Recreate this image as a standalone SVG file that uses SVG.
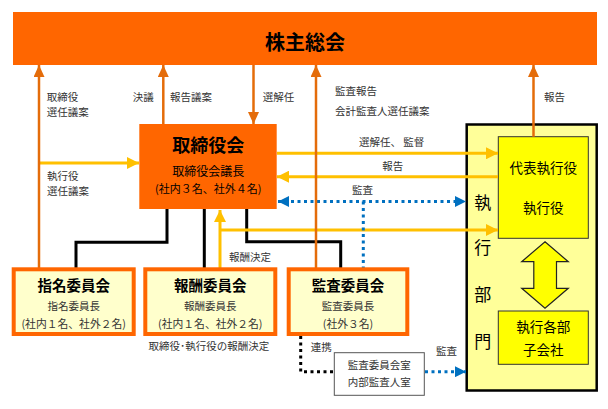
<svg xmlns="http://www.w3.org/2000/svg" width="608" height="409" viewBox="0 0 608 409">
<defs>
<style>
text{font-family:"Noto Sans CJK JP","Noto Sans",sans-serif;dominant-baseline:central;fill:#333}
.t{fill:#000;font-weight:bold}
.lbl{font-size:10.5px}
.mid{text-anchor:middle}
.or{stroke:#E46C0A;stroke-width:2.5;fill:none}
.ye{stroke:#FFC000;stroke-width:3;fill:none}
.bl{stroke:#0070C0;stroke-width:3;stroke-dasharray:3 3.5;fill:none}
.bk{stroke:#000;stroke-width:3;fill:none}
.bkd{stroke:#000;stroke-width:3;stroke-dasharray:3 3.5;fill:none}
.cm{fill:#FFFFCC;stroke:#FF6600;stroke-width:4}
.inner{fill:#FFFF00;stroke:#333;stroke-width:1}
</style>
<marker id="ao" markerUnits="userSpaceOnUse" markerWidth="12" markerHeight="11" refX="12" refY="5.5" orient="auto"><path d="M0,0 L12,5.5 L0,11 z" fill="#E46C0A"/></marker>
<marker id="ay" markerUnits="userSpaceOnUse" markerWidth="12" markerHeight="12" refX="12" refY="6" orient="auto"><path d="M0,0 L12,6 L0,12 z" fill="#FFC000"/></marker>
<marker id="ab" markerUnits="userSpaceOnUse" markerWidth="11" markerHeight="11" refX="11" refY="5.5" orient="auto"><path d="M0,0 L11,5.5 L0,11 z" fill="#0070C0"/></marker>
<marker id="abs" markerUnits="userSpaceOnUse" markerWidth="11" markerHeight="11" refX="0" refY="5.5" orient="auto"><path d="M11,0 L0,5.5 L11,11 z" fill="#0070C0"/></marker>
</defs>

<g id="shareholders">
<rect x="13" y="12" width="584" height="53" fill="#FF6600"/>
<text class="t mid" x="305" y="41" font-size="20">株主総会</text>
</g>

<g id="exec-dept">
<rect x="466.7" y="124.5" width="130" height="266" fill="#FFFF99" stroke="#000" stroke-width="2.5"/>
<text class="mid" x="482.7" y="201" font-size="17" style="fill:#000">執</text>
<text class="mid" x="482.7" y="246.7" font-size="17" style="fill:#000">行</text>
<text class="mid" x="482.7" y="293.3" font-size="17" style="fill:#000">部</text>
<text class="mid" x="482.7" y="340" font-size="17" style="fill:#000">門</text>
</g>

<g id="representative">
<rect class="inner" x="498.3" y="136.7" width="90" height="101.6"/>
<text class="mid" x="543.3" y="167.3" font-size="13.5" style="fill:#000">代表執行役</text>
<text class="mid" x="543.3" y="206.7" font-size="13.5" style="fill:#000">執行役</text>
</g>

<g id="divisions">
<rect class="inner" x="498.3" y="311" width="90" height="53.3"/>
<text class="mid" x="543.3" y="326" font-size="13.5" style="fill:#000">執行各部</text>
<text class="mid" x="543.3" y="349.3" font-size="13.5" style="fill:#000">子会社</text>
</g>

<g id="connectors">
<polygon points="545,241.7 568.3,261.7 556.5,261.7 556.5,288.3 568.3,288.3 545,308.3 521.7,288.3 533.8,288.3 533.8,261.7 521.7,261.7" fill="#FFFF00" stroke="#222" stroke-width="1.2"/>
<path class="bk" d="M167,209 V242.3 H76 V268"/>
<path class="bk" d="M204.3,209 V268"/>
<path class="bk" d="M246.7,209 V241.7 H340.7 V268"/>
<path class="ye" d="M39,163 H139" marker-end="url(#ay)"/>
<path class="ye" d="M277,153.3 H498" marker-end="url(#ay)"/>
<path class="ye" d="M498,176.7 H277" marker-end="url(#ay)"/>
<path class="ye" d="M220,268 V210" marker-end="url(#ay)"/>
<path class="ye" d="M220,230 H498" marker-end="url(#ay)"/>
<path class="bl" d="M363.3,201.5 V268"/>
<path class="bl" d="M278,201.5 H466" marker-start="url(#abs)" marker-end="url(#ab)"/>
<path class="bkd" d="M300.7,336 V371.7 H334"/>
<path class="bl" d="M425,371.7 H466" marker-end="url(#ab)"/>
<path class="or" d="M39,268 V65" marker-end="url(#ao)"/>
<path class="or" d="M163.3,124 V65" marker-end="url(#ao)"/>
<path class="or" d="M253.5,65 V124" marker-end="url(#ao)"/>
<path class="or" d="M316,268 V65" marker-end="url(#ao)"/>
<path class="or" d="M533.5,136.7 V65" marker-end="url(#ao)"/>
</g>

<g id="labels">
<text class="lbl" x="46.7" y="96.7">取締役</text>
<text class="lbl" x="46.7" y="111.7">選任議案</text>
<text class="lbl" x="47" y="175">執行役</text>
<text class="lbl" x="47" y="190.7">選任議案</text>
<text class="lbl mid" x="143.3" y="96.7">決議</text>
<text class="lbl" x="170" y="96.7">報告議案</text>
<text class="lbl" x="262.7" y="96">選解任</text>
<text class="lbl" x="335" y="90.7">監査報告</text>
<text class="lbl" x="335" y="110">会計監査人選任議案</text>
<text class="lbl" x="544" y="96">報告</text>
<text class="lbl mid" x="391.7" y="141.7">選解任、 監督</text>
<text class="lbl mid" x="392.7" y="165">報告</text>
<text class="lbl mid" x="362.5" y="189.3">監査</text>
<text class="lbl" x="229" y="256.7">報酬決定</text>
<text class="lbl mid" x="208.8" y="345.7">取締役･執行役の報酬決定</text>
<text class="lbl" x="310.7" y="346.7">連携</text>
<text class="lbl" x="436" y="350.7">監査</text>
</g>

<g id="board">
<rect x="139.3" y="124" width="137.4" height="85" fill="#FF6600"/>
<text class="t mid" x="208.3" y="144" font-size="18">取締役会</text>
<text class="mid" x="208.3" y="170" font-size="12" style="fill:#000">取締役会議長</text>
<text class="mid" x="208.3" y="188.3" font-size="11" style="fill:#000">(社内３名、社外４名)</text>
</g>

<g id="nomination">
<rect class="cm" x="13.7" y="269.3" width="120" height="64.7"/>
<text class="t mid" x="73.7" y="284.3" font-size="14.5">指名委員会</text>
<text class="lbl mid" x="73.7" y="305">指名委員長</text>
<text class="mid" x="73.7" y="322.7" font-size="10.8">(社内１名、社外２名)</text>
</g>

<g id="compensation">
<rect class="cm" x="145.3" y="269.3" width="130" height="64.7"/>
<text class="t mid" x="210.3" y="284.3" font-size="14.5">報酬委員会</text>
<text class="lbl mid" x="210.3" y="305">報酬委員長</text>
<text class="mid" x="210.3" y="322.7" font-size="10.8">(社内１名、社外２名)</text>
</g>

<g id="audit">
<rect class="cm" x="288.7" y="269.3" width="118.6" height="64.7"/>
<text class="t mid" x="348" y="284.3" font-size="14.5">監査委員会</text>
<text class="lbl mid" x="348" y="305">監査委員長</text>
<text class="mid" x="348" y="322.7" font-size="10.8">(社外３名)</text>
</g>

<g id="audit-office">
<rect x="334.3" y="352.7" width="90" height="42.6" fill="#fff" stroke="#555" stroke-width="1"/>
<text class="lbl mid" x="379.3" y="364">監査委員会室</text>
<text class="lbl mid" x="379.3" y="381">内部監査人室</text>
</g>
</svg>
